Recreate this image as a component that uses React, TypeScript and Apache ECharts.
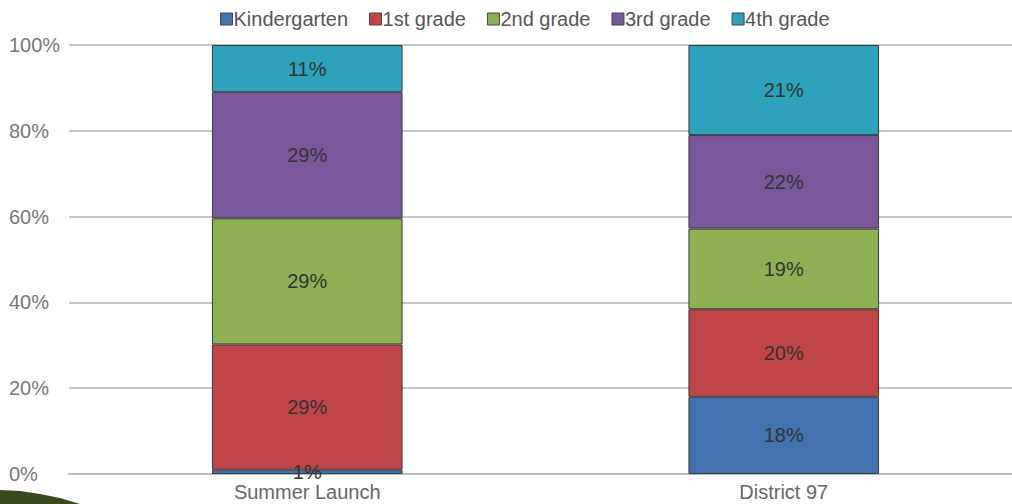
import React, { useEffect, useRef } from "react";
import * as echarts from "echarts";

const categories = ["Summer Launch", "District 97"];
const seriesNames = ["Kindergarten", "1st grade", "2nd grade", "3rd grade", "4th grade"];
const kindergarten = [1, 18];
const grade1 = [29.2, 20.4];
const grade2 = [29.4, 18.8];
const grade3 = [29.4, 21.8];
const grade4 = [11, 21];
const yTicks = [0, 20, 40, 60, 80, 100];
const colors = ["#4272b0", "#c04548", "#8db152", "#78579a", "#2ea2bd"];

export default function App() {
  const ref = useRef<HTMLDivElement>(null);
  useEffect(() => {
    document.body.style.margin = "0";
    const chart = echarts.init(ref.current!, null, { renderer: "svg" });
    const values = [kindergarten, grade1, grade2, grade3, grade4];
    const font = "Liberation Sans, Arial, sans-serif";
    chart.setOption({
      animation: false,
      color: colors,
      textStyle: { fontFamily: font },
      legend: {
        top: 4,
        left: 215,
        itemWidth: 12,
        itemHeight: 12,
        itemGap: 21,
        icon: "rect",
        textStyle: { fontSize: 20, color: "#555", padding: [0, 0, 0, -4] },
        data: seriesNames.map((n) => ({
          name: n,
          itemStyle: { borderColor: "#444", borderWidth: 1 },
        })),
      },
      grid: {
        left: 69,
        width: 953,
        top: 45,
        bottom: 30,
        containLabel: false,
        outerBoundsMode: "none",
      },
      xAxis: {
        type: "category",
        data: categories,
        axisTick: { show: false },
        axisLine: { lineStyle: { color: "#bdbdbd", width: 2 } },
        axisLabel: { fontSize: 20, color: "#666", margin: 8 },
      },
      yAxis: {
        type: "value",
        min: yTicks[0],
        max: yTicks[yTicks.length - 1],
        interval: 20,
        axisLine: { show: false },
        axisTick: { show: false },
        axisLabel: {
          formatter: "{value}%",
          fontSize: 20,
          color: "#777",
          align: "left",
          margin: 60,
        },
        splitLine: { lineStyle: { color: "#c4c4c4", width: 2 } },
      },
      series: seriesNames.map((name, i) => ({
        name,
        type: "bar",
        stack: "total",
        data: values[i],
        barCategoryGap: "60%",
        itemStyle: { borderColor: "#3a3a3a", borderWidth: 1 },
        label: {
          show: true,
          position: "inside",
          fontSize: 20,
          color: "#333",
          formatter: (p: any) => Math.round(p.value) + "%",
        },
      })),
      graphic: [
        {
          type: "polygon",
          shape: {
            points: [
              [0, 490],
              [20, 491],
              [40, 494],
              [60, 498],
              [80, 504],
              [0, 504],
            ],
          },
          style: { fill: "#3b4a1c" },
          z: 100,
        },
      ],
    });
    return () => chart.dispose();
  }, []);
  return <div ref={ref} style={{ width: 1012, height: 504 }} />;
}
